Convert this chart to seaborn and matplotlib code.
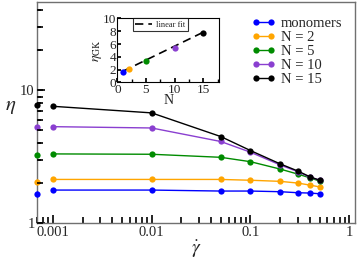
import numpy as np
import pandas as pd
import matplotlib
matplotlib.use('Agg')
import matplotlib.pyplot as plt
import matplotlib.transforms as mtransforms
from matplotlib.ticker import FixedLocator, NullFormatter, LogLocator
import seaborn as sns

sns.set_theme(style='ticks')
plt.rcParams['font.family'] = ['Liberation Serif', 'DejaVu Serif']
plt.rcParams['mathtext.fontset'] = 'stix'
plt.rcParams.update({'font.size': 10.5})

# shear rates and viscosities
shear = [0.001, 0.01, 0.05, 0.1, 0.2, 0.3, 0.4, 0.5]
eta_mono = [1.78, 1.78, 1.75, 1.75, 1.73, 1.70, 1.69, 1.67]
eta_n2 = [2.14, 2.14, 2.14, 2.11, 2.07, 2.01, 1.94, 1.88]
eta_n5 = [3.33, 3.31, 3.14, 2.91, 2.56, 2.35, 2.20, 2.08]
eta_n10 = [5.34, 5.22, 4.13, 3.43, 2.75, 2.45, 2.22, 2.12]
eta_n15 = [7.6, 6.78, 4.5, 3.53, 2.80, 2.48, 2.24, 2.11]

labels = ['monomers', 'N = 2', 'N = 5', 'N = 10', 'N = 15']
colors = ['#0000ff', '#ffa500', '#008b00', '#8a3fd0', '#000000']

# Green-Kubo zero shear viscosity (inset data)
chain_N = [1, 2, 5, 10, 15]
eta_gk = [1.66, 2.06, 3.27, 5.34, 7.8]
eta_gk_err = [0.08, 0.08, 0.08, 0.1, 0.2]
fit_N = [1, 15]
fit_eta = [1.75, 7.85]

series = [eta_mono, eta_n2, eta_n5, eta_n10, eta_n15]

fig = plt.figure(figsize=(3.6, 2.64), dpi=100)
ax = fig.add_axes([0.104, 0.154, 0.882, 0.837])

x_min = 0.0007
for vals, lab, c, gk, err in zip(series, labels, colors, eta_gk, eta_gk_err):
    sns.lineplot(x=shear, y=vals, color=c, marker='o', markersize=4.5,
                 markeredgewidth=0, linewidth=1, label=lab, ax=ax)
    ax.errorbar([x_min], [gk], yerr=err, fmt='o', color=c, markersize=4.5,
                markeredgewidth=0, capsize=1.5, elinewidth=1, clip_on=False, zorder=5)

ax.set_xscale('log')
ax.set_yscale('log')
ax.set_xlim(x_min, 1.14)
ax.set_ylim(1, 46)
ax.set_xticks([0.001, 0.01, 0.1, 1])
ax.set_xticklabels(['0.001', '0.01', '0.1', '1'])
ax.set_yticks([1, 10])
ax.set_yticklabels(['1', '10'])
ax.xaxis.set_minor_locator(LogLocator(base=10, subs=np.arange(2, 10)))
ax.yaxis.set_minor_locator(LogLocator(base=10, subs=np.arange(2, 10)))
ax.yaxis.set_minor_formatter(NullFormatter())
ax.xaxis.set_minor_formatter(NullFormatter())
ax.tick_params(which='both', direction='in', color='black', labelsize=10.5, pad=2)
ax.tick_params(which='major', length=6, width=1.2)
ax.tick_params(which='minor', length=4, width=1.2)
for s in ax.spines.values():
    s.set_color('#707070')
    s.set_linewidth(1)

# make sure the inward y ticks show on the left spine
ytrans = mtransforms.blended_transform_factory(ax.transAxes, ax.transData)
ax_w = 0.882 * 360
for yt in [1, 10]:
    ax.plot([0, 6 / ax_w], [yt, yt], transform=ytrans, color='black',
            lw=1.2, clip_on=False, solid_capstyle='butt', zorder=6)
for yt in [2, 3, 4, 5, 6, 7, 8, 9, 20, 30, 40]:
    ax.plot([0, 4 / ax_w], [yt, yt], transform=ytrans, color='black',
            lw=1.2, clip_on=False, solid_capstyle='butt', zorder=6)

ax.set_xlabel(r'$\dot{\gamma}$', fontsize=14, labelpad=0)
ax.set_ylabel(r'$\eta$', fontsize=15, rotation=0, va='center', ha='center')
ax.yaxis.set_label_coords(-0.085, 0.53)

ax.legend(loc='upper left', bbox_to_anchor=(0.675, 0.935), frameon=False,
          numpoints=2, handlelength=1.6, handletextpad=0.4, labelspacing=0.05,
          borderpad=0, borderaxespad=0, fontsize=10.5)

# inset
ins = fig.add_axes([0.326, 0.688, 0.283, 0.242])
for n, e, err, c in zip(chain_N, eta_gk, eta_gk_err, colors):
    ins.errorbar([n], [e], yerr=err, fmt='o', color=c, markersize=4.5,
                 markeredgewidth=0, capsize=2, elinewidth=1, zorder=5)
sns.lineplot(x=fit_N, y=fit_eta, color='black', linestyle=(0, (5, 3)),
             linewidth=1.2, label='linear fit', ax=ins)
ins.set_xlim(0, 17.8)
ins.set_ylim(0, 10)
ins.set_xticks([0, 5, 10, 15])
ins.set_yticks([0, 2, 4, 6, 8, 10])
ins.xaxis.set_minor_locator(FixedLocator([2.5, 7.5, 12.5, 17.5]))
ins.tick_params(which='both', direction='in', labelsize=9.5, pad=1, color='black')
ins.tick_params(which='major', length=3)
ins.tick_params(which='minor', length=2)
for s in ins.spines.values():
    s.set_color('black')
    s.set_linewidth(0.8)
ins.set_xlabel('N', fontsize=10, labelpad=-1)
ins.set_ylabel(r'$\eta_{\mathrm{GK}}$', fontsize=10, labelpad=-1)
leg = ins.legend(loc='upper left', bbox_to_anchor=(0.15, 1.0), fontsize=6,
                 frameon=True, fancybox=False, borderaxespad=0, borderpad=0.3,
                 handlelength=2, handletextpad=0.5)
leg.get_frame().set_edgecolor('black')
leg.get_frame().set_linewidth(0.8)

fig.savefig('out.png', dpi=100)
